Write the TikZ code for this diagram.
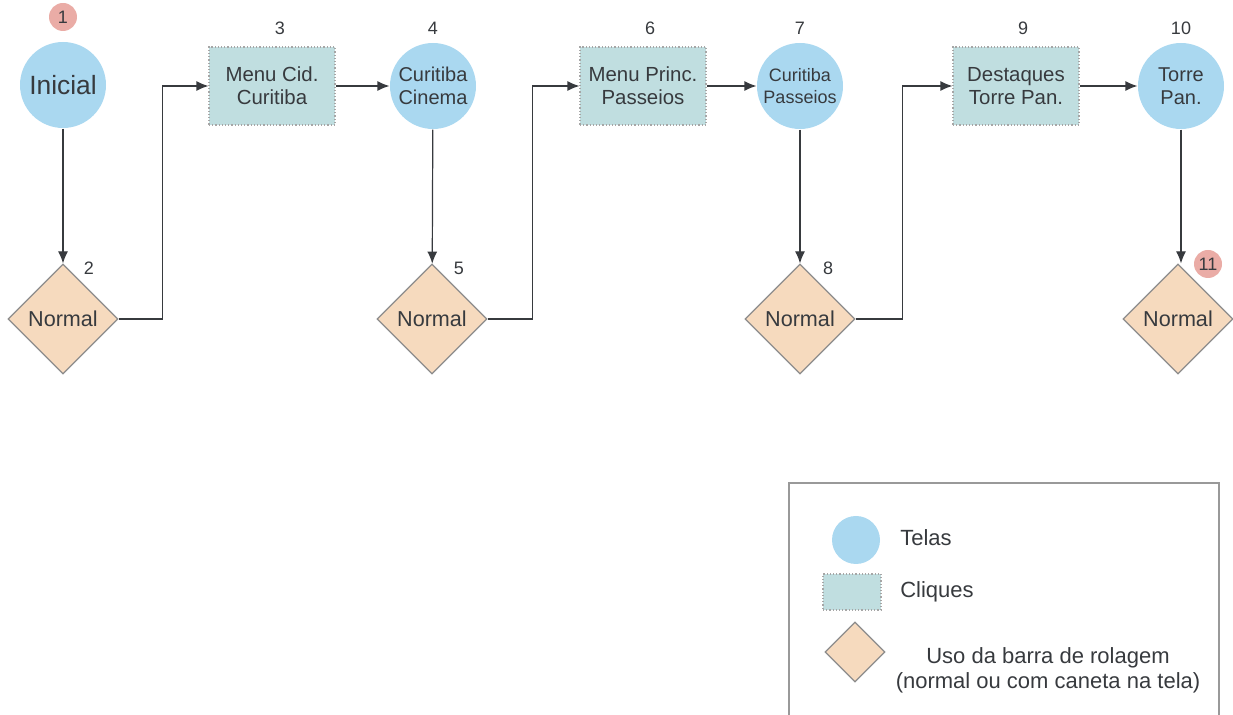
\documentclass[tikz,border=0pt]{standalone}
\usepackage{fontspec}
\setmainfont{Liberation Sans}
\usepackage{xcolor}
\usetikzlibrary{shapes.geometric, positioning, arrows.meta}
\definecolor{telablue}{RGB}{170,216,240}
\definecolor{cliqueteal}{RGB}{192,222,224}
\definecolor{rolagem}{RGB}{246,218,190}
\definecolor{marcapink}{RGB}{234,172,166}
\definecolor{texto}{RGB}{55,58,62}
\tikzset{tela/.style={circle,fill=telablue,minimum size=43pt,inner sep=0pt,align=center,text=texto,font=\fontsize{10}{11.5}\selectfont},
  clique/.style={rectangle,fill=cliqueteal,draw=gray!70,densely dotted,minimum width=63pt,minimum height=39pt,inner sep=0pt,align=center,text=texto,font=\fontsize{10.2}{11.5}\selectfont},
  rolagem/.style={diamond,fill=rolagem,draw=gray!90,minimum width=55pt,minimum height=55pt,inner sep=0pt,text=texto,font=\fontsize{10.8}{12}\selectfont},
  marca/.style={circle,fill=marcapink,minimum size=14pt,inner sep=0pt,text=texto,font=\fontsize{9}{10}\selectfont},
  numero/.style={text=texto,font=\fontsize{9}{10}\selectfont}}

\begin{document}
\begin{tikzpicture}[x=0.5pt,y=-0.5pt,>={Latex[length=6pt,width=5pt]},line width=0.6pt]
      \useasboundingbox (0,0) rectangle (1233,715);
      \node[tela,font=\fontsize{13.2}{15}\selectfont] (s1) at (63,85) {Inicial};
      \node[rolagem] (s2) at (63,319) {Normal};
      \node[clique] (s3) at (272,86) {Menu Cid.\\Curitiba};
      \node[tela] (s4) at (433,86) {Curitiba\\Cinema};
      \node[rolagem] (s5) at (432,319) {Normal};
      \node[clique] (s6) at (643,86) {Menu Princ.\\Passeios};
      \node[tela,font=\fontsize{9}{11}\selectfont] (s7) at (800,86) {Curitiba\\Passeios};
      \node[rolagem] (s8) at (800,319) {Normal};
      \node[clique] (s9) at (1016,86) {Destaques\\Torre Pan.};
      \node[tela] (s10) at (1181,86) {Torre\\Pan.};
      \node[rolagem] (s11) at (1178,319) {Normal};

      % numeros
      \node[marca] (m1) at (63,17) {1};
      \node[numero] (n2) at (89,268) {2};
      \node[numero] (n3) at (280,28) {3};
      \node[numero] (n4) at (433,28) {4};
      \node[numero] (n5) at (459,268) {5};
      \node[numero] (n6) at (650,28) {6};
      \node[numero] (n7) at (800,28) {7};
      \node[numero] (n8) at (828,268) {8};
      \node[numero] (n9) at (1023,28) {9};
      \node[numero] (n10) at (1181,28) {10};
      \node[marca] (m11) at (1208,264) {11};

      \draw[->,draw=texto] (s1) -- (s2);
      \draw[->,draw=texto] (s2.east) -- ++(44,0) |- (s3.west);
      \draw[->,draw=texto] (s3) -- (s4);
      \draw[->,draw=texto] (s4) -- (s5);
      \draw[->,draw=texto] (s5.east) -- ++(45,0) |- (s6.west);
      \draw[->,draw=texto] (s6) -- (s7);
      \draw[->,draw=texto] (s7) -- (s8);
      \draw[->,draw=texto] (s8.east) -- ++(47,0) |- (s9.west);
      \draw[->,draw=texto] (s9) -- (s10);
      \draw[->,draw=texto] (s10.south) -- (s10.south|-s11.north);

      % legenda
      \draw[gray!80] (789,715) -- (789,483) -- (1219,483) -- (1219,715);
      \node[tela,minimum size=24pt] (lt) at (856,540) {};
      \node[clique,minimum width=29pt,minimum height=18pt] (lc) at (852,592) {};
      \node[rolagem,minimum width=30pt,minimum height=30pt] (lr) at (855,652) {};
      \node[right,text=texto,font=\fontsize{11}{12}\selectfont] (tt) at (893,538) {Telas};
      \node[right,text=texto,font=\fontsize{11}{12}\selectfont] (tc) at (893,592) {Cliques};
      \node[align=center,text=texto,font=\fontsize{11}{12.5}\selectfont] (tr) at (1048,670) {Uso da barra de rolagem\\(normal ou com caneta na tela)};
  \end{tikzpicture}
\end{document}
